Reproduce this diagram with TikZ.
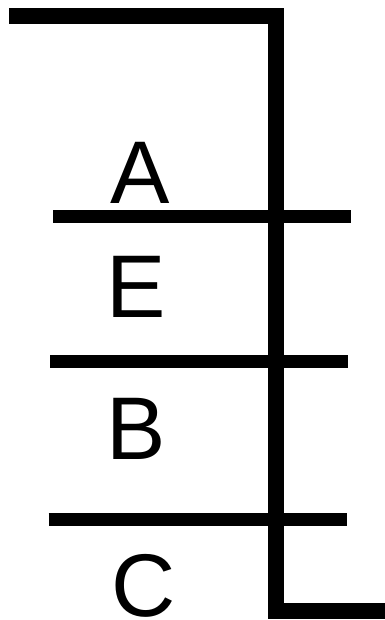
\documentclass[tikz,border=0pt]{standalone}
\usepackage{fontspec}
\setmainfont{Liberation Sans}
\begin{document}
\begin{tikzpicture}[x=1pt,y=1pt,
  mainline/.style={line width=16pt,line join=miter,line cap=butt},
  bar/.style={line width=13.5pt,line cap=butt},
  lbl/.style={anchor=base,inner sep=0pt,font=\fontsize{89}{89}\selectfont}]
\useasboundingbox (0,0) rectangle (384,620);
\draw[mainline] (9.3,604) -- (276,604) -- (276,9) -- (392,9);
\draw[bar] (53,403.5) -- (351,403.5);
\draw[bar] (50,258.5) -- (348,258.5);
\draw[bar] (48.7,100.3) -- (346.7,100.3);
\node[lbl] (a) at (140.5,416) {A};
\node[lbl] (e) at (136.5,302) {E};
\node[lbl] (b) at (136.5,160) {B};
\node[lbl] (c) at (143.5,3) {C};
\end{tikzpicture}
\end{document}
